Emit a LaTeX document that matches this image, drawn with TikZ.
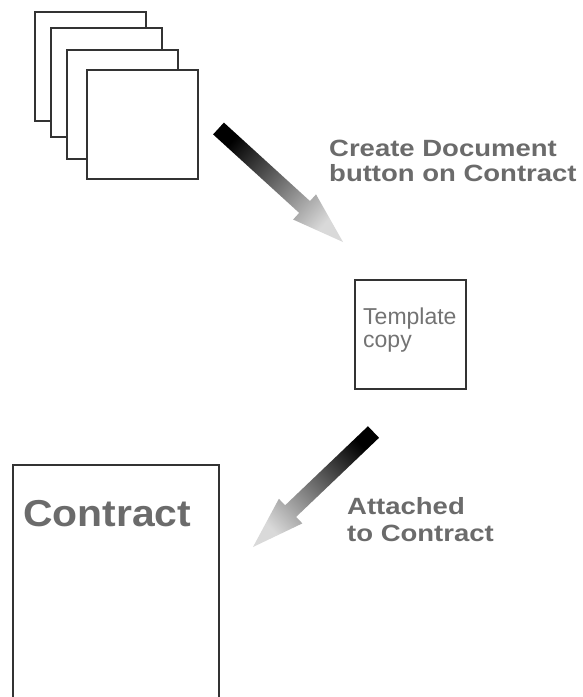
\documentclass[tikz,border=0pt]{standalone}
\usepackage{fontspec}
\setmainfont{Liberation Sans}
\newfontfamily\notefont[FakeStretch=1.17]{Liberation Sans}
\newfontfamily\titlefont[FakeStretch=1.09]{Liberation Sans}
\usetikzlibrary{calc}

\definecolor{labelgray}{HTML}{6B6B6B}
\definecolor{copygray}{HTML}{737373}
\definecolor{framegray}{HTML}{333333}

\tikzset{
  page/.style={draw=framegray, fill=white, line width=2pt, minimum width=111pt, minimum height=109pt, inner sep=0pt},
  note/.style={text=labelgray, align=left, anchor=north west, inner sep=0pt},
  fatarrow/.style={top color=black, bottom color=black!15, draw=none}
}

\newcommand{\fatarrow}[3]{%
  \coordinate (#1base) at ($(#2)!52pt!(#1)$);
  \shade[fatarrow, shading angle=#3] ($(#1)!8pt!90:(#2)$) -- ($(#1base)!8pt!90:(#2)$)
    -- ($(#1base)!17pt!90:(#2)$) -- (#2) -- ($(#1base)!17pt!-90:(#2)$)
    -- ($(#1base)!8pt!-90:(#2)$) -- ($(#1)!8pt!-90:(#2)$) -- cycle;}

\begin{document}
\begin{tikzpicture}[x=1pt, y=1pt]
\clip (0,0) rectangle (582,-697);
\fill[white] (0,0) rectangle (582,-697);

\node[page] (sheet1) at (90.5,-66.5) {};
\node[page] (sheet2) at (106.5,-82.5) {};
\node[page] (sheet3) at (122,-104.5) {};
\node[page] (sheet4) at (142.5,-124.5) {};

\coordinate (create) at (218.5,-128.5);
\coordinate (createtip) at (343,-242);
\fatarrow{create}{createtip}{47.6}
\node[note, font=\notefont\bfseries\fontsize{23.5}{25}\selectfont] (createlabel) at (329,-140) {Create Document\\button on Contract};

\node[page] (copybox) at (410.5,-334.5) {};
\node[anchor=north west, inner sep=0pt, text=copygray, align=left, font=\fontsize{23}{23}\selectfont] (copylabel) at (363,-308) {Template\\copy};

\coordinate (attach) at (373.5,-432);
\coordinate (attachtip) at (253,-547);
\fatarrow{attach}{attachtip}{-46.3}
\node[note, font=\notefont\bfseries\fontsize{23.5}{27}\selectfont] (attachlabel) at (347,-497) {Attached\\to Contract};

\node[page, anchor=north west, minimum width=206pt, minimum height=260pt] (contract) at (12,-464) {};
\node[note, font=\titlefont\bfseries\fontsize{37.5}{37.5}\selectfont] (contracttitle) at (23,-500) {Contract};
\end{tikzpicture}
\end{document}
